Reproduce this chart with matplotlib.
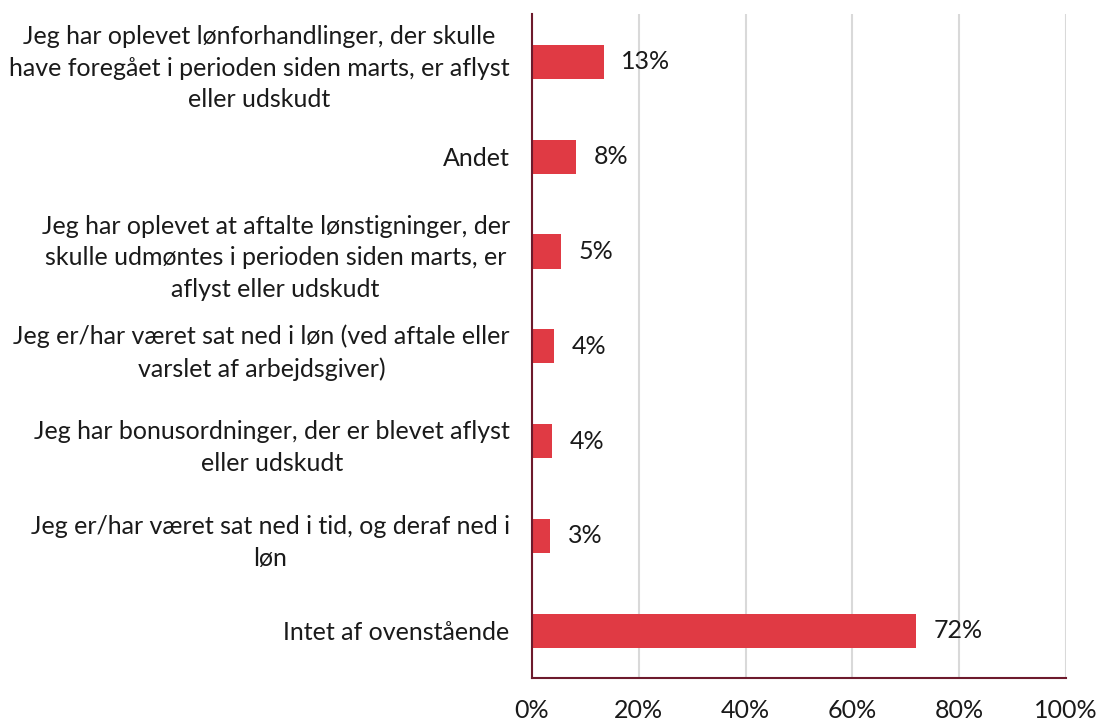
import matplotlib.pyplot as plt
import numpy as np

plt.rcParams['font.family'] = ['Lato', 'DejaVu Sans']

categories = [
    "Jeg har oplevet lønforhandlinger, der skulle\nhave foregået i perioden siden marts, er aflyst\neller udskudt",
    "Andet",
    "Jeg har oplevet at aftalte lønstigninger, der\nskulle udmøntes i perioden siden marts, er\naflyst eller udskudt",
    "Jeg er/har været sat ned i løn (ved aftale eller\nvarslet af arbejdsgiver)",
    "Jeg har bonusordninger, der er blevet aflyst\neller udskudt",
    "Jeg er/har været sat ned i tid, og deraf ned i\nløn",
    "Intet af ovenstående",
]
values = [13.4, 8.2, 5.4, 4.1, 3.7, 3.4, 71.9]
labels = ["13%", "8%", "5%", "4%", "4%", "3%", "72%"]
ticks = [0, 20, 40, 60, 80, 100]

fig = plt.figure(figsize=(11, 7.2), dpi=100)
ax = fig.add_axes([0.4836, 0.058, 0.4855, 0.922])

y = np.arange(len(categories))
ax.barh(y, values, height=0.36, color='#e03a44', zorder=3)
for yi, v, lab in zip(y, values, labels):
    ax.text(v + 3.3, yi, lab, va='center', ha='left', fontsize=18,
            color='#1a1a1a')

ax.set_xlim(0, 100)
ax.set_ylim(len(categories) - 0.5, -0.5)
ax.set_xticks(ticks)
ax.set_xticklabels([f"{t}%" for t in ticks], fontsize=18, color='#1a1a1a')
ax.set_yticks(y)
ax.set_yticklabels(categories, fontsize=18, color='#1a1a1a', linespacing=1.45,
                   multialignment='center')
ax.tick_params(axis='both', length=0)
ax.tick_params(axis='x', pad=15)
ax.tick_params(axis='y', pad=16)
ax.grid(axis='x', color='#d9d9d9', linewidth=1.5, zorder=0)
for s in ['top', 'right']:
    ax.spines[s].set_visible(False)
ax.spines['left'].set_color('#6d1a2c')
ax.spines['left'].set_linewidth(1.5)
ax.spines['bottom'].set_color('#6d1a2c')
ax.spines['bottom'].set_linewidth(1.5)
ax.spines['left'].set_zorder(4)

fig.savefig('out.png', dpi=100)
